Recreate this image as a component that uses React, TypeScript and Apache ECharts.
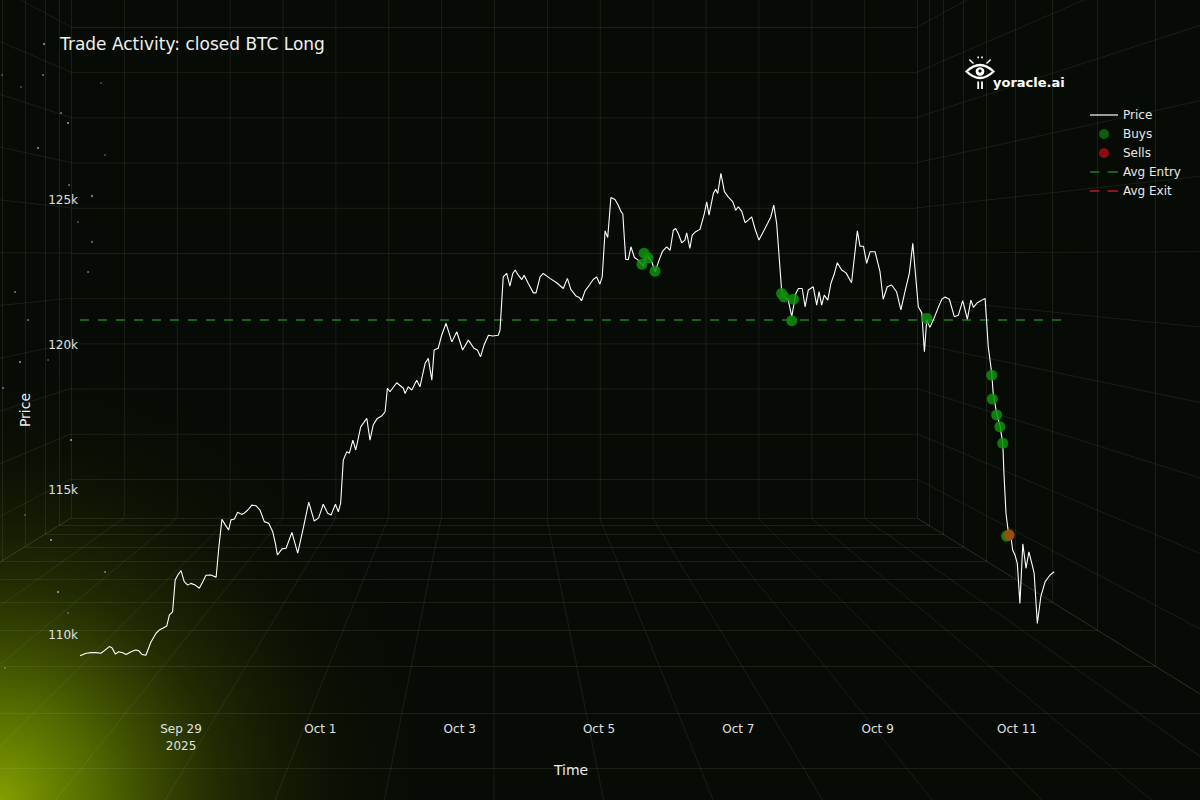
import React, { useEffect, useRef } from "react";
import * as echarts from "echarts";

// ---- data ----
const START_UTC = Date.UTC(2025, 8, 27, 13, 0); // hours below are counted from here
const priceHours = [
  0.2, 2.3, 4.0, 5.7, 7.4, 8.6, 10.3, 11.2, 12.4, 13.5,
  14.9, 16.1, 17.8, 19.3, 20.4, 21.5, 22.9, 24.6, 26.4, 27.5,
  28.7, 30.1, 31.0, 32.1, 33.0, 33.9, 35.0, 36.1, 37.3, 38.4,
  39.9, 41.3, 42.5, 43.6, 45.3, 47.1, 48.0, 49.1, 50.3, 51.4,
  52.2, 53.4, 54.5, 55.9, 56.8, 58.0, 59.4, 60.8, 62.2, 63.7,
  65.2, 66.6, 67.5, 68.2, 69.8, 71.2, 73.2, 75.2, 77.1, 79.0,
  80.9, 82.4, 84.0, 85.5, 86.7, 88.2, 89.2, 90.0, 90.9, 92.1,
  93.0, 94.2, 95.2, 96.9, 99.0, 100.1, 101.2, 102.6, 104.1, 105.3,
  106.1, 107.0, 109.3, 111.6, 112.2, 113.3, 114.5, 116.2, 117.3, 119.1,
  120.2, 121.4, 122.2, 123.6, 124.8, 126.3, 128.3, 130.0, 132.0, 134.0,
  135.9, 137.1, 138.2, 139.4, 140.9, 142.4, 144.3, 144.9, 146.0, 147.2,
  148.3, 149.3, 150.1, 151.2, 152.4, 153.2, 154.6, 156.4, 157.3, 158.7,
  159.8, 162.1, 164.4, 166.7, 168.1, 169.3, 171.1, 172.2, 173.0, 174.2,
  175.7, 177.0, 178.2, 179.3, 180.1, 181.1, 182.0, 183.1, 184.5, 185.6,
  186.6, 187.2, 188.2, 189.1, 190.0, 191.2, 192.5, 194.3, 195.4, 197.2,
  198.3, 199.7, 200.8, 202.3, 203.5, 204.6, 205.4, 206.3, 207.5, 208.6,
  209.2, 210.3, 211.1, 212.3, 213.8, 215.3, 216.1, 216.9, 218.4, 219.2,
  219.9, 221.0, 222.2, 223.5, 225.1, 226.1, 227.0, 228.2, 229.3, 230.4,
  231.6, 232.7, 234.1, 235.6, 237.1, 238.2, 239.2, 240.2, 241.9, 242.8,
  244.2, 245.4, 246.8, 247.7, 249.0, 250.0, 251.1, 252.8, 254.0, 254.8,
  255.7, 256.6, 257.8, 258.9, 260.1, 261.1, 262.6, 264.1, 266.0, 268.0,
  268.9, 270.1, 271.2, 272.4, 274.1, 275.8, 276.9, 278.3, 279.8, 281.5,
  283.0, 284.4, 285.9, 287.1, 289.0, 290.2, 291.1, 291.9, 293.0, 294.4,
  295.9, 297.1, 298.2, 299.7, 301.4, 302.8, 304.3, 305.9, 307.1, 308.0,
  309.3, 312.0, 313.1, 314.3, 314.8, 316.0, 317.1, 318.1, 318.5, 319.2,
  320.0, 320.6, 321.5, 322.3, 323.1, 324.0, 325.0, 326.1, 327.1, 328.1,
  328.9, 330.0, 331.2, 332.7, 334.4, 335.8,
];
const priceValues = [
  109280, 109370, 109390, 109390, 109370, 109460, 109600, 109560, 109340, 109420,
  109390, 109330, 109420, 109480, 109460, 109330, 109300, 109750, 110060, 110170,
  110230, 110310, 110690, 110800, 111900, 112070, 112220, 111840, 111720, 111780,
  111720, 111610, 111840, 112060, 112070, 111990, 112990, 113990, 113790, 113620,
  113970, 114000, 114230, 114160, 114200, 114310, 114480, 114460, 114310, 113910,
  113850, 113560, 113160, 112760, 112970, 112990, 113540, 112820, 113680, 114580,
  113930, 114040, 114510, 114200, 114140, 114510, 114250, 114550, 116030, 116320,
  116270, 116720, 116380, 117180, 117470, 116720, 117240, 117470, 117550, 117700,
  118510, 118390, 118700, 118510, 118330, 118560, 118450, 118790, 118560, 119370,
  119540, 118790, 119830, 119890, 120340, 120750, 120110, 120460, 119830, 120170,
  119890, 119830, 119600, 120000, 120340, 120310, 120340, 120520, 122350, 122470,
  122030, 122470, 122590, 122410, 122260, 122410, 122130, 121800, 121800, 122350,
  122470, 122300, 122150, 121950, 122300, 121920, 121690, 121640, 121530, 121870,
  122070, 122260, 122350, 122100, 122350, 123940, 123710, 125090, 125020, 124830,
  124600, 124520, 122950, 122950, 123390, 123020, 122930, 122720, 123100, 122870,
  122530, 122930, 123220, 123390, 123270, 123960, 124020, 123850, 123530, 123620,
  123870, 123330, 123790, 123910, 123990, 124540, 124940, 124480, 125230, 125370,
  125230, 125920, 125290, 125110, 124940, 124650, 124770, 124600, 124220, 124310,
  124420, 124020, 123620, 123910, 124200, 124420, 124830, 124200, 121900, 121660,
  121550, 120980, 121780, 121950, 121950, 121320, 121900, 122010, 121380, 121840,
  121380, 121720, 121550, 122130, 122470, 122840, 122590, 122490, 122150, 123940,
  123410, 123410, 122820, 123220, 123220, 122530, 121580, 122010, 122070, 121840,
  121210, 121840, 122470, 123510, 121320, 121110, 119770, 120860, 120610, 120920,
  121300, 121580, 121660, 121580, 120980, 121030, 121530, 120890, 121550, 121300,
  121460, 121610, 119940, 119020, 118330, 117640, 117240, 116610, 115580, 114200,
  113560, 113620, 112930, 112760, 112470, 111090, 113140, 112300, 112870, 112470,
  112130, 110400, 111320, 111840, 112070, 112180,
];
const buyHours = [194.5, 193.8, 195.9, 198.3, 241.9, 242.8, 246.0, 245.4, 291.9, 314.3, 314.5, 316.0, 317.1, 318.1, 319.4];
const buyPrices = [123170, 122790, 123000, 122550, 121780, 121660, 121580, 120840, 120920, 118960, 118140, 117590, 117180, 116610, 113410];
const sellHours = [320.3];
const sellPrices = [113450];
const avgEntryPrice = 120860;
const avgLineHours = [0.2, 338.5];
const tickDates = [
  Date.UTC(2025, 8, 29), Date.UTC(2025, 9, 1), Date.UTC(2025, 9, 3), Date.UTC(2025, 9, 5),
  Date.UTC(2025, 9, 7), Date.UTC(2025, 9, 9), Date.UTC(2025, 9, 11),
];
const tickLabels = ["Sep 29\n2025", "Oct 1", "Oct 3", "Oct 5", "Oct 7", "Oct 9", "Oct 11"];
const yTickValues = [110000, 115000, 120000, 125000];
const Y_MIN = 107240;
const Y_MAX = 128280;

// ---- decoration (background room, stars) ----
const VX = 494, VY = 255, HW = 423, HH = 263;
const backRows = [27, 72.2, 117.4, 162.6, 207.8, 253, 298.2, 343.4, 388.6, 433.8, 479];
const depthScales = [1.028, 1.061, 1.109, 1.163, 1.232, 1.319, 1.426, 1.563, 1.74, 1.95, 2.2];
const stars = [
  [2, 75], [43, 75], [44, 44], [101, 83], [61, 113], [68, 123], [105, 155], [69, 185], [92, 196],
  [78, 222], [92, 242], [38, 148], [21, 87], [88, 272], [20, 362], [48, 360], [3, 388], [71, 440],
  [25, 515], [105, 572], [51, 540], [5, 668], [15, 292], [58, 592], [68, 613], [28, 320],
];

const FONT = "DejaVu Sans";
const GRID_STROKE = "rgba(215,230,205,0.085)";
const ENTRY_COLOR = "#1b5f1b";
const EXIT_COLOR = "#8e1616";
const hoursOf = (ts: number) => (ts - START_UTC) / 3600000;

function buildRoom(): any[] {
  const els: any[] = [];
  const L = VX - HW, R = VX + HW, T = VY - HH, B = VY + HH;
  const far = 3.2;
  const seg = (x1: number, y1: number, x2: number, y2: number) =>
    els.push({
      type: "line", silent: true, z: 1,
      shape: { x1, y1, x2, y2 },
      style: { stroke: GRID_STROKE, lineWidth: 1 },
    });
  const cols: number[] = [];
  for (let i = 0; i <= 16; i++) cols.push(L + (i * (R - L)) / 16);
  const rows = [T, ...backRows, B];
  cols.forEach((x) => seg(x + 0.5, T, x + 0.5, B));
  rows.forEach((y) => seg(L, y + 0.5, R, y + 0.5));
  rows.forEach((y) => {
    seg(R, y, VX + (R - VX) * far, VY + (y - VY) * far);
    seg(L, y, VX + (L - VX) * far, VY + (y - VY) * far);
  });
  cols.forEach((x) => seg(x, B, VX + (x - VX) * far, VY + (B - VY) * far));
  depthScales.forEach((s) => {
    const l = Math.round(VX - HW * s) + 0.5, r = Math.round(VX + HW * s) + 0.5;
    const t = VY - HH * s, b = Math.round(VY + HH * s) + 0.5;
    seg(l, t, l, b);
    seg(r, t, r, b);
    seg(l, b, r, b);
  });
  return els;
}

function buildLogo(): any[] {
  const W = "#ffffff";
  return [
    { type: "eyeOutline", x: 980, y: 71.5, z: 10, silent: true, style: { fill: "none", stroke: W, lineWidth: 2.2 } },
    { type: "circle", z: 10, silent: true, shape: { cx: 980, cy: 71.5, r: 4.3 }, style: { fill: W } },
    { type: "circle", z: 11, silent: true, shape: { cx: 980, cy: 71, r: 1.6 }, style: { fill: "#070b06" } },
    { type: "line", z: 10, silent: true, shape: { x1: 969.3, y1: 59.5, x2: 973.5, y2: 63.5 }, style: { stroke: W, lineWidth: 1.6 } },
    { type: "line", z: 10, silent: true, shape: { x1: 990.7, y1: 59.5, x2: 986.5, y2: 63.5 }, style: { stroke: W, lineWidth: 1.6 } },
    { type: "rect", z: 10, silent: true, shape: { x: 977.4, y: 56.6, width: 1.6, height: 1.6 }, style: { fill: W } },
    { type: "rect", z: 10, silent: true, shape: { x: 981.2, y: 56.6, width: 1.6, height: 1.6 }, style: { fill: W } },
    { type: "rect", z: 10, silent: true, shape: { x: 977.3, y: 81.5, width: 1.8, height: 7.5 }, style: { fill: W } },
    { type: "rect", z: 10, silent: true, shape: { x: 981.1, y: 81.5, width: 1.8, height: 7.5 }, style: { fill: W } },
    {
      type: "text", z: 10, silent: true, x: 993, y: 82,
      style: { text: "yoracle.ai", fill: W, font: `bold 13px '${FONT}'`, textVerticalAlign: "middle", textAlign: "left" },
    },
  ];
}

export default function App() {
  const ref = useRef<HTMLDivElement>(null);
  useEffect(() => {
    if (!ref.current) return;
    try {
      echarts.graphic.registerShape(
        "eyeOutline",
        echarts.graphic.extendPath("M-13.5,0 Q0,-13 13.5,0 Q0,13 -13.5,0 Z", {})
      );
    } catch (e) {}
    const chart = echarts.init(ref.current, null, { renderer: "svg" });

    const n = Math.min(priceHours.length, priceValues.length);
    const priceData: any[] = [];
    for (let i = 0; i < n; i++) priceData.push([priceHours[i], priceValues[i]]);
    const buyData = buyHours.map((h, i) => [h, buyPrices[i]]);
    const sellData = sellHours.map((h, i) => [h, sellPrices[i]]);
    const avgData = avgLineHours.map((h) => [h, avgEntryPrice]);
    const tickHours = tickDates.map(hoursOf);

    const labelFor = (v: number) => {
      for (let i = 0; i < tickHours.length; i++) if (Math.abs(tickHours[i] - v) < 0.01) return tickLabels[i];
      return "";
    };

    const glow = {
      type: "rect", z: 0, silent: true,
      shape: { x: 0, y: 340, width: 460, height: 460 },
      style: {
        fill: new echarts.graphic.RadialGradient(0, 1, 1, [
          { offset: 0, color: "rgba(130,160,0,1)" },
          { offset: 0.22, color: "rgba(92,116,0,0.88)" },
          { offset: 0.48, color: "rgba(48,62,0,0.62)" },
          { offset: 0.75, color: "rgba(20,28,0,0.32)" },
          { offset: 1, color: "rgba(7,11,6,0)" },
        ]),
      },
    };
    const starEls = stars.map(([x, y], i) => ({
      type: "circle", z: 1, silent: true,
      shape: { cx: x, cy: y, r: 0.8 },
      style: { fill: "#ffffff", opacity: 0.35 + (i % 3) * 0.2 },
    }));

    const solidIcon = "path://M0,0h28v1.2h-28z";
    const dashIcon = "path://M0,0h9v2h-9z M17,0h10v2h-10z";

    const option: any = {
      animation: false,
      backgroundColor: "#070b06",
      title: {
        text: "Trade Activity: closed BTC Long",
        left: 60, top: 35, padding: 0,
        textStyle: { color: "#f0f0f0", fontSize: 17, fontWeight: "normal", fontFamily: FONT },
      },
      legend: {
        orient: "vertical", left: 1090, top: 108, padding: 0,
        itemWidth: 28, itemHeight: 10, itemGap: 5, selectedMode: false,
        textStyle: { color: "#e8e8e8", fontSize: 12, fontFamily: FONT, lineHeight: 14 },
        data: [
          { name: "Price", icon: solidIcon, itemStyle: { color: "#ffffff", opacity: 1 } },
          { name: "Buys", icon: "circle", itemStyle: { color: "#0e5e0e", opacity: 1 } },
          { name: "Sells", icon: "circle", itemStyle: { color: "#8e0b0b", opacity: 1 } },
          { name: "Avg Entry", icon: dashIcon, itemStyle: { color: ENTRY_COLOR, opacity: 1 } },
          { name: "Avg Exit", icon: dashIcon, itemStyle: { color: EXIT_COLOR, opacity: 1 } },
        ],
      },
      grid: { left: 80, right: 138, top: 105, bottom: 85, containLabel: false },
      xAxis: {
        type: "value",
        min: priceHours[0],
        max: avgLineHours[1],
        axisLine: { show: false }, axisTick: { show: false }, splitLine: { show: false },
        axisLabel: {
          customValues: tickHours,
          formatter: (v: number) => labelFor(v),
          color: "#e0e0e0", fontSize: 12, fontFamily: FONT, lineHeight: 17, margin: 5, hideOverlap: false,
        },
        name: "Time", nameLocation: "middle", nameGap: 48,
        nameTextStyle: { color: "#ececec", fontSize: 14, fontFamily: FONT },
      },
      yAxis: {
        type: "value", min: Y_MIN, max: Y_MAX,
        axisLine: { show: false }, axisTick: { show: false }, splitLine: { show: false },
        axisLabel: {
          customValues: yTickValues,
          formatter: (v: number) => `${Math.round(v / 1000)}k`,
          color: "#e0e0e0", fontSize: 12, fontFamily: FONT, margin: 2,
        },
        name: "Price", nameLocation: "middle", nameGap: 48, nameRotate: 90,
        nameTextStyle: { color: "#ececec", fontSize: 14, fontFamily: FONT },
      },
      graphic: { elements: [glow, ...buildRoom(), ...starEls, ...buildLogo()] },
      series: [
        {
          name: "Avg Entry", type: "line", data: avgData, symbol: "none", silent: true, z: 3,
          lineStyle: { color: ENTRY_COLOR, width: 2, type: [9, 9] },
          itemStyle: { color: ENTRY_COLOR },
        },
        {
          name: "Avg Exit", type: "line", data: [], symbol: "none", silent: true, z: 3,
          lineStyle: { color: EXIT_COLOR, width: 2, type: [9, 9] },
          itemStyle: { color: EXIT_COLOR },
        },
        {
          name: "Price", type: "line", data: priceData, symbol: "none", silent: true, z: 4,
          lineStyle: { color: "#ffffff", width: 1.1 },
          itemStyle: { color: "#ffffff" },
        },
        {
          name: "Buys", type: "scatter", data: buyData, symbol: "circle", symbolSize: 11, silent: true, z: 5,
          itemStyle: { color: "#0f8f0f", opacity: 0.85 },
        },
        {
          name: "Sells", type: "scatter", data: sellData, symbol: "circle", symbolSize: 11, silent: true, z: 6,
          itemStyle: { color: "#94500f", opacity: 1 },
        },
      ],
    };
    chart.setOption(option);
    return () => chart.dispose();
  }, []);
  return <div ref={ref} style={{ position: "fixed", left: 0, top: 0, width: 1200, height: 800 }} />;
}
